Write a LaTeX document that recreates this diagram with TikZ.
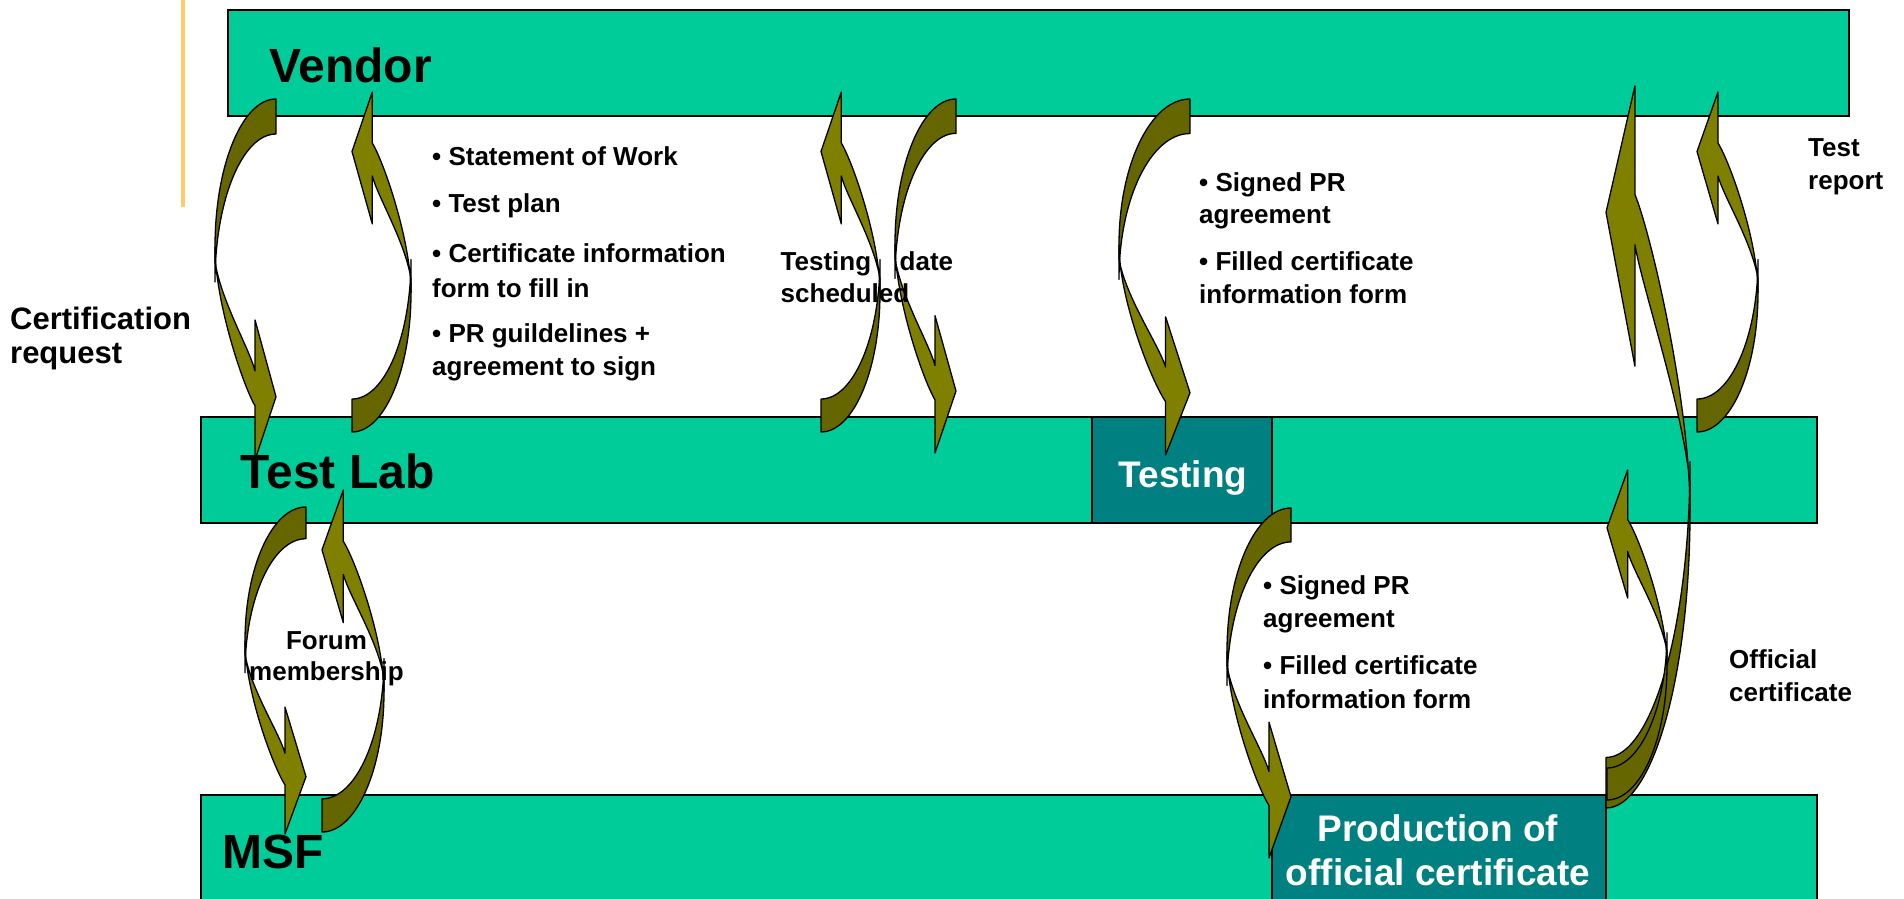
\documentclass[tikz,border=0pt]{standalone}
\usepackage{fontspec}
\setmainfont{Liberation Sans}
\definecolor{barcol}{HTML}{00CC99}
\definecolor{dtealcol}{HTML}{008080}
\definecolor{oliveL}{HTML}{808000}
\definecolor{oliveD}{HTML}{666600}
\definecolor{tmplcol}{HTML}{FFCC66}
\tikzset{
  lane/.style={draw=black, line width=1.2pt, fill=barcol},
  procbox/.style={draw=black, line width=1.2pt, fill=dtealcol},
  tmplline/.style={draw=tmplcol, line width=4pt},
  lanelabel/.style={font=\fontsize{48}{58}\selectfont\bfseries, anchor=base west, inner sep=0pt},
  boxlabel/.style={font=\fontsize{37}{44}\selectfont\bfseries, text=white, anchor=base, inner sep=0pt},
  note/.style={font=\fontsize{26}{32}\selectfont\bfseries, anchor=base west, inner sep=0pt},
  notec/.style={font=\fontsize{26}{32}\selectfont\bfseries, anchor=base, inner sep=0pt},
  bignote/.style={font=\fontsize{31}{37}\selectfont\bfseries, anchor=base west, inner sep=0pt},
  arrowedge/.style={draw=black, line width=1.3pt, line join=round},
  carrow/.pic={
    \pgfmathsetmacro\caT{#1}
    \pgfmathsetmacro\caLb{0.41+\caT}
    \pgfmathsetmacro\caLc{0.1836+\caT}
    \pgfmathsetmacro\caN{0.85-\caT}
    \pgfmathsetmacro\caNc{0.787-\caT}
    \path[arrowedge, fill=oliveD]
      (1,0) .. controls (0.4477,0) and (0,0.1836) .. (0,0.41)
      -- (0,\caLb) .. controls (0,\caLc) and (0.4477,\caT) .. (1,\caT) -- cycle;
    \path[arrowedge, fill=oliveL]
      (0,0.41) .. controls (0,0.56) and (0.45,0.79) .. (0.656,0.85)
      -- (0.656,1) -- (1,0.825) -- (0.656,0.612) -- (0.656,\caN)
      .. controls (0.56,\caNc) and (0.1,0.56) .. (0,0.45) -- cycle;
  }
}
\begin{document}
\begin{tikzpicture}[x=1pt,y=-1pt]
\useasboundingbox (0,0) rectangle (1904,899);
\clip (0,0) rectangle (1904,899);
% template line
\draw[tmplline] (183,0) -- (183,207);
% lanes
\draw[lane] (228,10) rectangle (1849,116);
\draw[lane] (201,417) rectangle (1817,523);
\draw[lane] (201,795) rectangle (1817,915);
\draw[procbox] (1092,417) rectangle (1272,523);
\draw[procbox] (1272,795) rectangle (1606,915);
% curved arrows (down, bulging left)
\pic[xscale=61,yscale=361] at (215,99) {carrow=0.097};
\pic[xscale=61,yscale=354] at (895,99) {carrow=0.097};
\pic[xscale=71,yscale=356] at (1119,99) {carrow=0.097};
\pic[xscale=64,yscale=350] at (1227,508) {carrow=0.097};
\pic[xscale=61,yscale=327] at (245,507) {carrow=0.097};
% curved arrows (up, bulging right)
\pic[xscale=-59,yscale=-340] at (411,432) {carrow=0.097};
\pic[xscale=-59,yscale=-340] at (880,432) {carrow=0.097};
\pic[xscale=-61,yscale=-340] at (1758,432) {carrow=0.097};
\pic[xscale=-62,yscale=-342] at (384,832) {carrow=0.097};
\pic[xscale=-84,yscale=-722] at (1690,808) {carrow=0.07};
\pic[xscale=-60,yscale=-330] at (1667,800) {carrow=0.097};
% lane labels
\node[lanelabel] (lvendor) at (269,82) {Vendor};
\node[lanelabel] (ltestlab) at (240.5,488) {Test Lab};
\node[lanelabel] (lmsf) at (222,868) {MSF};
\node[boxlabel] (ltesting) at (1183,487) {Testing};
\node[boxlabel] (lprod1) at (1438,841) {Production of};
\node[boxlabel] (lprod2) at (1438,885) {official certificate};
% notes
\node[bignote] (cr1) at (10,329) {Certification};
\node[bignote] (cr2) at (10,363) {request};
\node[note] (s1) at (432,165) {• Statement of Work};
\node[note] (s2) at (432,212) {• Test plan};
\node[note] (s3) at (432,262) {• Certificate information};
\node[note] (s4) at (432,297) {form to fill in};
\node[note] (s5) at (432,342) {• PR guildelines +};
\node[note] (s6) at (432,375) {agreement to sign};
\node[note] (td1) at (780.5,270) {Testing};
\node[note] (td2) at (899.5,270) {date};
\node[note] (td3) at (780.5,302) {scheduled};
\node[note] (u1) at (1199,191) {• Signed PR};
\node[note] (u2) at (1199,223) {agreement};
\node[note] (u3) at (1199,270) {• Filled certificate};
\node[note] (u4) at (1199,303) {information form};
\node[note] (w1) at (1263,594) {• Signed PR};
\node[note] (w2) at (1263,627) {agreement};
\node[note] (w3) at (1263,674) {• Filled certificate};
\node[note] (w4) at (1263,708) {information form};
\node[notec] (f1) at (326.5,649) {Forum};
\node[notec] (f2) at (326.5,680) {membership};
\node[note] (tr1) at (1808,156) {Test};
\node[note] (tr2) at (1808,189) {report};
\node[note] (oc1) at (1729,668) {Official};
\node[note] (oc2) at (1729,701) {certificate};
\end{tikzpicture}
\end{document}
